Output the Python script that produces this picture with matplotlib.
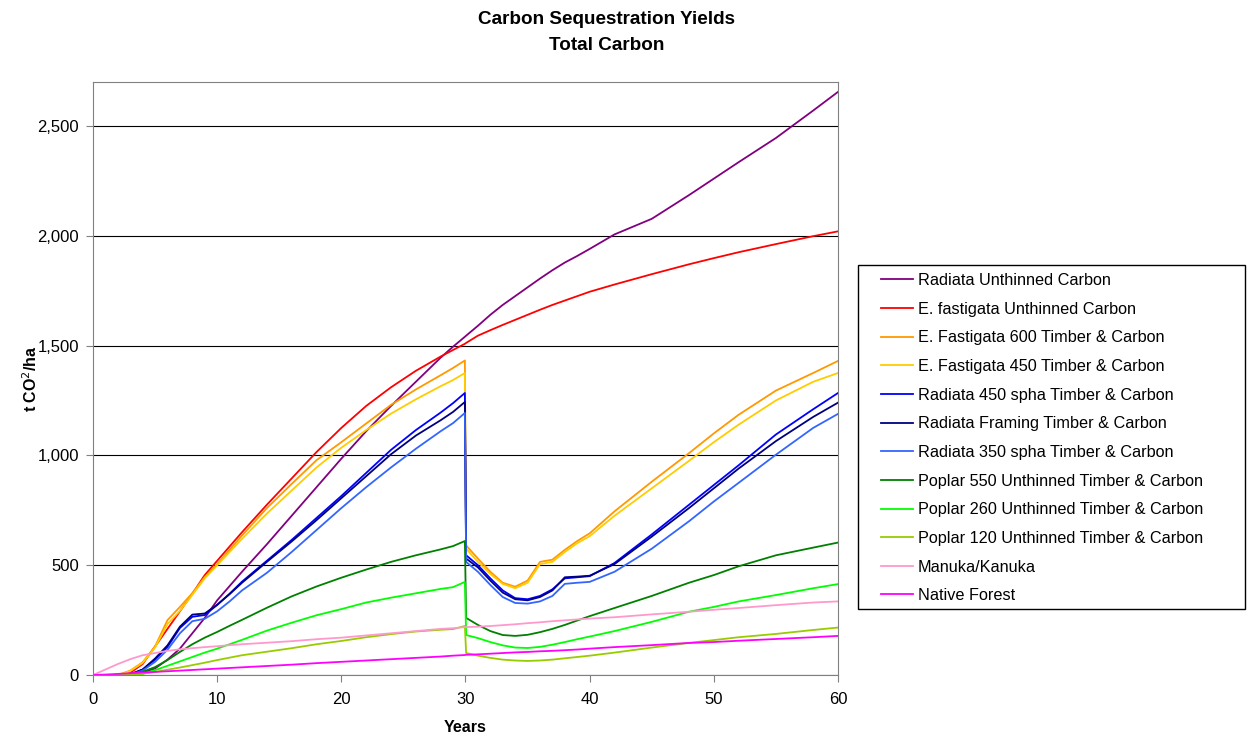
import matplotlib.pyplot as plt
from matplotlib.patches import Rectangle
from matplotlib.ticker import FuncFormatter

plt.rcParams['font.family'] = ['Liberation Sans', 'DejaVu Sans']

# shared time axis (years); thinning at year 30
years = [0, 1, 2, 3, 4, 5, 6, 7, 8, 9, 10, 11, 12, 14, 16, 18, 20, 22, 24, 26, 28, 29, 29.95, 30.05,
         31, 32, 33, 34, 35, 36, 37, 38, 39, 40, 42, 45, 48, 50, 52, 55, 58, 60]

radiata_unthinned = [0, 0, 0, 3, 10, 30, 70, 120, 190, 260, 340, 405, 470, 595, 725, 855, 985, 1110, 1225,
                     1335, 1445, 1495, 1540, 1545, 1590, 1640, 1685, 1725, 1765, 1805, 1843, 1878, 1908,
                     1940, 2006, 2077, 2185, 2260, 2335, 2445, 2570, 2655]
efast_unthinned = [0, 0, 0, 10, 50, 130, 210, 290, 370, 455, 520, 585, 650, 775, 895, 1015, 1125, 1225, 1310,
                   1385, 1450, 1480, 1508, 1512, 1545, 1570, 1594, 1617, 1640, 1663, 1685, 1705, 1725,
                   1745, 1778, 1825, 1870, 1898, 1925, 1962, 1998, 2020]
efast_600 = [0, 0, 0, 20, 58, 130, 250, 310, 373, 446, 505, 570, 635, 760, 870, 978, 1060, 1145, 1230,
             1300, 1365, 1398, 1432, 590, 530, 470, 420, 402, 430, 515, 525, 570, 610,
             645, 745, 880, 1010, 1100, 1185, 1295, 1375, 1430]
efast_450 = [0, 0, 0, 18, 55, 125, 232, 292, 365, 440, 500, 560, 620, 735, 840, 945, 1035, 1115, 1190,
             1255, 1315, 1343, 1375, 575, 515, 460, 415, 395, 420, 505, 515, 560, 600,
             632, 725, 850, 975, 1060, 1140, 1250, 1335, 1375]
radiata_450 = [0, 0, 0, 3, 25, 70, 128, 214, 265, 273, 319, 370, 425, 520, 615, 715, 815, 920, 1025,
               1115, 1195, 1238, 1284, 545, 500, 440, 385, 350, 345, 360, 390, 440, 445,
               450, 510, 640, 775, 865, 955, 1095, 1210, 1284]
radiata_framing = [0, 0, 0, 3, 25, 75, 135, 220, 275, 280, 320, 368, 420, 515, 608, 705, 805, 905, 1005,
                   1090, 1160, 1198, 1243, 530, 490, 430, 375, 345, 340, 355, 385, 445, 448,
                   452, 505, 630, 760, 850, 940, 1065, 1175, 1240]
radiata_350 = [0, 0, 0, 2, 20, 60, 115, 190, 245, 256, 290, 335, 385, 465, 560, 660, 760, 855, 945,
               1030, 1110, 1147, 1193, 515, 470, 410, 355, 328, 325, 335, 360, 415, 420,
               424, 470, 575, 700, 790, 875, 1003, 1125, 1189]
poplar_550 = [0, 0, 0, 3, 15, 36, 68, 105, 140, 170, 196, 224, 251, 306, 358, 403, 443, 480, 515,
              545, 572, 587, 610, 260, 228, 200, 182, 178, 183, 195, 210, 228, 248,
              268, 305, 360, 420, 455, 495, 545, 580, 603]
poplar_260 = [0, 0, 0, 2, 5, 22, 42, 62, 82, 102, 120, 140, 160, 202, 238, 272, 300, 330, 352,
              372, 392, 400, 424, 182, 168, 150, 135, 125, 123, 128, 138, 150, 163,
              175, 200, 242, 288, 310, 335, 364, 395, 414]
poplar_120 = [0, 0, 0, 2, 6, 14, 24, 34, 45, 56, 68, 79, 90, 106, 122, 140, 155, 172, 186,
              198, 206, 209, 223, 100, 88, 78, 70, 66, 64, 66, 70, 76, 82,
              88, 102, 125, 146, 159, 172, 187, 205, 216]
manuka = [0, 25, 50, 72, 90, 100, 110, 117, 122, 127, 131, 136, 140, 147, 154, 163, 170, 180, 190,
          200, 210, 213, 218, 218, 220, 223, 227, 231, 236, 240, 245, 249, 253,
          257, 263, 276, 288, 297, 305, 318, 330, 335]
native = [0, 2, 5, 8, 11, 14, 17, 20, 23, 26, 29, 32, 35, 41, 47, 54, 60, 66, 72,
          78, 84, 88, 91, 92, 94, 97, 100, 103, 105, 108, 110, 113, 116,
          120, 127, 136, 146, 150, 156, 164, 172, 178]

labels = ["Radiata Unthinned Carbon", "E. fastigata Unthinned Carbon",
          "E. Fastigata 600 Timber & Carbon", "E. Fastigata 450 Timber & Carbon",
          "Radiata 450 spha Timber & Carbon", "Radiata Framing Timber & Carbon",
          "Radiata 350 spha Timber & Carbon", "Poplar 550 Unthinned Timber & Carbon",
          "Poplar 260 Unthinned Timber & Carbon", "Poplar 120 Unthinned Timber & Carbon",
          "Manuka/Kanuka", "Native Forest"]
series = [radiata_unthinned, efast_unthinned, efast_600, efast_450, radiata_450, radiata_framing,
          radiata_350, poplar_550, poplar_260, poplar_120, manuka, native]
colors = ["#800080", "#FF0000", "#FF9900", "#FFCC00", "#0000FF", "#000080",
          "#3366FF", "#008000", "#00FF00", "#99CC00", "#FF99CC", "#FF00FF"]

W, H = 1248, 738
fig = plt.figure(figsize=(W/100, H/100), dpi=100)
ax = fig.add_axes([93/W, 1-675/H, (838-93)/W, (675-82)/H])

for vals, lab, col in zip(series, labels, colors):
    ax.plot(years, vals, color=col, lw=1.3, label=lab)

ax.set_xlim(0, 60)
ax.set_ylim(0, 2700)
ax.set_xticks(range(0, 61, 10))
ax.set_yticks(range(0, 2501, 500))
ax.yaxis.set_major_formatter(FuncFormatter(lambda v, p: f"{int(v):,}"))
ax.grid(axis='y', color='black', lw=0.8)
ax.set_axisbelow(True)
for s in ax.spines.values():
    s.set_color('#808080')
ax.tick_params(labelsize=12, color='#808080', length=5, pad=5)
ax.tick_params(axis='x', pad=7)

ax.set_xlabel("Years", fontsize=11.5, fontweight='bold', va='top')
ax.xaxis.set_label_coords(0.5, -(720-675)/593)
ax.set_ylabel("t CO$^2$/ha", fontsize=11.5, fontweight='bold', va='center')
ax.yaxis.set_label_coords(-(93-31)/745, 0.5)

fig.text(607/W, 1-20/H, "Carbon Sequestration Yields", ha='center', va='center',
         fontsize=13.6, fontweight='bold')
fig.text(607/W, 1-46/H, "Total Carbon", ha='center', va='center',
         fontsize=13.6, fontweight='bold')

# legend box drawn separately so the left padding can match
fig.patches.append(Rectangle((858/W, 1-609/H), (1245-858)/W, (609-265)/H, transform=fig.transFigure,
                             fill=False, edgecolor='black', lw=1.0))
leg = ax.legend(loc='upper left', bbox_to_anchor=(881/W, 1-273/H), bbox_transform=fig.transFigure,
                fontsize=11.7, frameon=False, handlelength=1.97, labelspacing=0.84,
                borderpad=0, handletextpad=0.3, borderaxespad=0)

fig.savefig("out.png", dpi=100)
